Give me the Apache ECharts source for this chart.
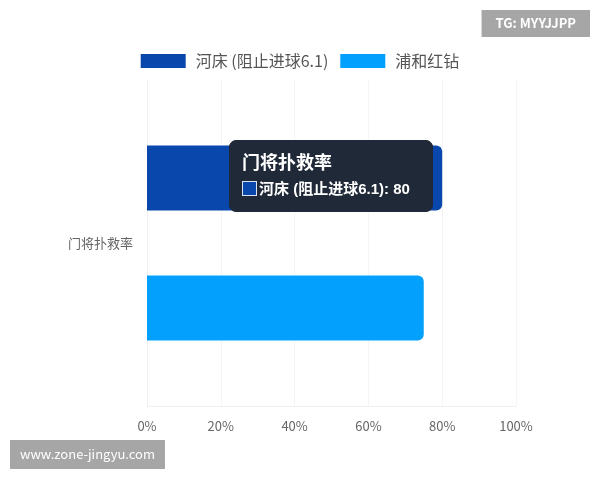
<!DOCTYPE html>
<html>
<head>
<meta charset="utf-8">
<script src="https://cdn.jsdelivr.net/npm/echarts@6/dist/echarts.min.js"></script>
<style>
html,body{margin:0;padding:0;background:#fff;}
#c{width:600px;height:480px;}
</style>
</head>
<body>
<div id="c"></div>
<script>
var categories = ['门将扑救率'];
var seriesNames = ['河床 (阻止进球6.1)', '浦和红钻'];
var seriesColors = ['#0a47ad', '#03a0fd'];
var riverValues = [80];
var urawaValues = [75];
var xTicks = [0, 20, 40, 60, 80, 100];

var chart = echarts.init(document.getElementById('c'));
var font = '"Noto Sans CJK SC", "Noto Sans", sans-serif';
var tipFont = "'Liberation Sans', 'Noto Sans CJK SC', sans-serif";
chart.setOption({
  animation: false,
  textStyle: { fontFamily: font },
  legend: {
    top: 48,
    left: 'center',
    icon: 'rect',
    itemWidth: 45,
    itemHeight: 14,
    itemGap: 12,
    textStyle: { fontSize: 16, color: '#555', fontFamily: font, padding: [0, 0, 0, 5] },
    data: seriesNames
  },
  grid: { left: 147, right: 84, top: 80, bottom: 74 },
  xAxis: {
    type: 'value', min: 0, max: 100, interval: 20,
    axisLabel: { formatter: '{value}%', color: '#666', fontSize: 13, margin: 14 },
    axisLine: { show: true, lineStyle: { color: '#f0f0f0' } },
    axisTick: { show: false },
    splitLine: { show: true, lineStyle: { color: '#f5f5f5' } }
  },
  yAxis: {
    type: 'category', data: categories, inverse: true,
    axisLabel: { color: '#666', fontSize: 13, margin: 14 },
    axisLine: { show: true, lineStyle: { color: '#f0f0f0' } },
    axisTick: { show: false }
  },
  tooltip: {
    trigger: 'item',
    alwaysShowContent: true,
    triggerOn: 'none',
    position: [229, 140],
    backgroundColor: '#1f2937',
    borderColor: '#1f2937',
    borderRadius: 7,
    padding: [8, 13, 10, 12],
    extraCssText: 'box-shadow:none;',
    formatter: function (p) {
      return '<div style="font-family:' + tipFont + ';color:#fff;min-width:177px;">' +
        '<div style="font-size:18px;font-weight:bold;line-height:28px;">' + p.name + '</div>' +
        '<div style="font-size:15px;font-weight:bold;line-height:24px;">' +
        '<span style="display:inline-block;width:13px;height:13px;border:1.5px solid #dbe4f5;background:' + p.color + ';vertical-align:-2px;margin-right:2px;"></span>' +
        p.seriesName + ': ' + p.value + '</div></div>';
    }
  },
  series: [
    { name: seriesNames[0], type: 'bar', data: riverValues, barWidth: 65, barGap: '100%',
      itemStyle: { color: seriesColors[0], borderRadius: [0, 6, 6, 0] } },
    { name: seriesNames[1], type: 'bar', data: urawaValues, barWidth: 65, barGap: '100%',
      itemStyle: { color: seriesColors[1], borderRadius: [0, 6, 6, 0] } }
  ],
  graphic: [
    { type: 'text', right: 10, top: 10, z: 100,
      style: { text: 'TG: MYYJJPP', fill: '#fff', fontSize: 13, fontWeight: 'bold', fontFamily: font,
        backgroundColor: '#a6a6a6', padding: [7, 14, 7, 14] } },
    { type: 'text', left: 10, top: 440, z: 100,
      style: { text: 'www.zone-jingyu.com', fill: '#fff', fontSize: 13, fontFamily: font,
        backgroundColor: '#a6a6a6', padding: [8, 10, 8, 10] } }
  ]
});
chart.dispatchAction({ type: 'showTip', seriesIndex: 0, dataIndex: 0 });
</script>
</body>
</html>
